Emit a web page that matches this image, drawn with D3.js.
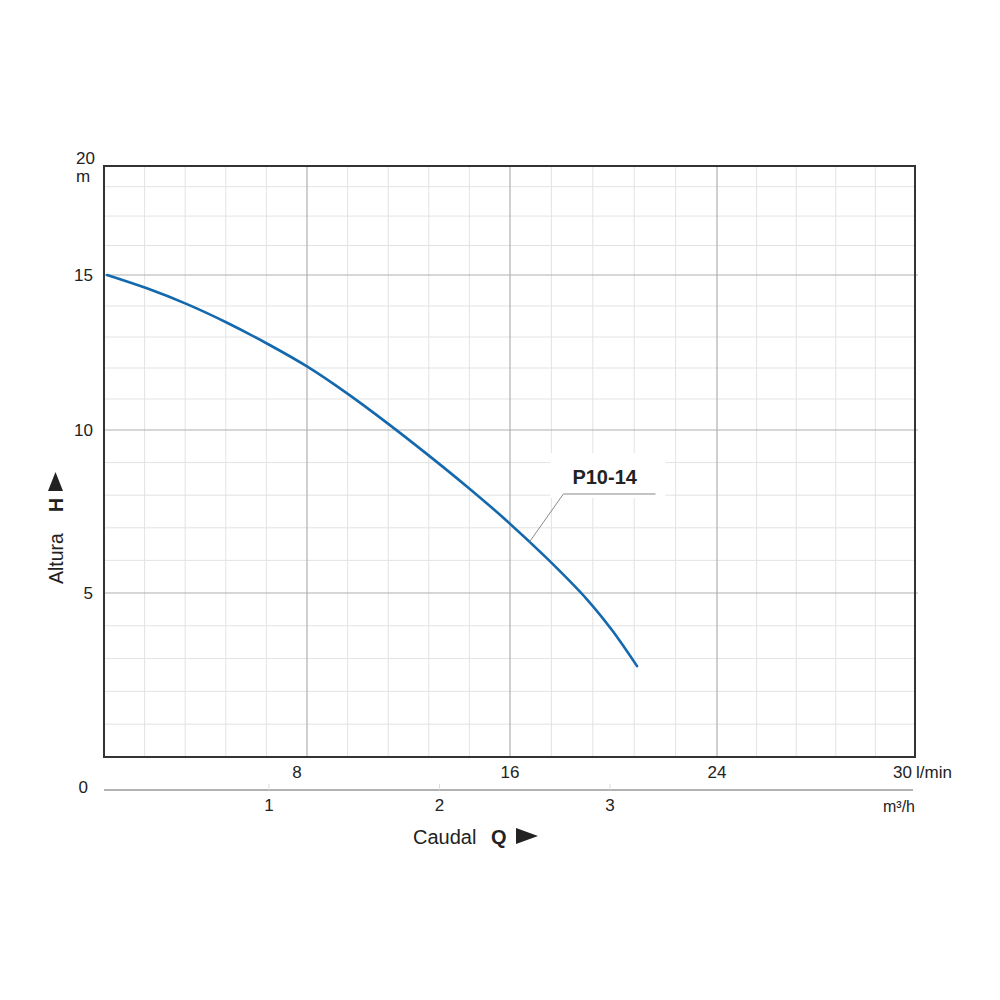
<!DOCTYPE html>
<html>
<head>
<meta charset="utf-8">
<script src="https://cdn.jsdelivr.net/npm/d3@7"></script>
<style>
  html, body { margin: 0; padding: 0; background: #fff; }
  svg { display: block; }
  text { font-family: "Liberation Sans", Arial, Helvetica, sans-serif; fill: #222; }
</style>
</head>
<body>
<svg id="chart" width="1000" height="1000"></svg>
<script>
// ---- data ----
const flowLmin = [0.12, 1.69, 3.27, 4.85, 6.42, 8.0, 9.58, 11.15, 12.73, 14.31, 15.88, 17.43, 18.98, 19.94, 20.91];
const headM    = [15.0, 14.57, 14.06, 13.46, 12.79, 12.05, 11.18, 10.23, 9.26, 8.26, 7.21, 6.06, 4.80, 3.87, 2.77];
const seriesName = "P10-14";
const labelAnchorQ = 16.75;

const xTickLabels = [8, 16, 24, 30];          // l/min
const xMinorTicks = [1.6, 3.2, 4.8, 6.4, 9.6, 11.2, 12.8, 14.4, 17.6, 19.2, 20.8, 22.4, 25.2, 26.4, 27.6, 28.8];
const yTickLabels = [5, 10, 15];               // m
const yMinorTicks = [1, 2, 3, 4, 6, 7, 8, 9, 11, 12, 13, 14, 16, 17, 18];
const m3hTickLabels = [1, 2, 3];

// ---- layout ----
const L = 104, R = 915, T = 166, B = 757;
const svg = d3.select("#chart");

// piecewise scales as in the printed chart
const x = d3.scaleLinear().domain([0, 8, 16, 24, 30]).range([L, 307, 510, 717, R]);
const y = d3.scaleLinear().domain([0, 5, 10, 15, 18.7]).range([B, 593, 430, 275, T]);
const xm = d3.scaleLinear().domain([1, 3]).range([269, 610]);

// minor grid
svg.append("g").selectAll("line").data(xMinorTicks).join("line")
  .attr("x1", d => x(d)).attr("x2", d => x(d)).attr("y1", T).attr("y2", B)
  .attr("stroke", "#e3e3e3").attr("stroke-width", 1);
svg.append("g").selectAll("line").data(yMinorTicks).join("line")
  .attr("x1", L).attr("x2", R).attr("y1", d => y(d)).attr("y2", d => y(d))
  .attr("stroke", "#e3e3e3").attr("stroke-width", 1);

// major grid
svg.append("g").selectAll("line").data(xTickLabels.filter(d => d < 30)).join("line")
  .attr("x1", d => x(d)).attr("x2", d => x(d)).attr("y1", T).attr("y2", B)
  .attr("stroke", "#b0b0b0").attr("stroke-width", 1.2);
svg.append("g").selectAll("line").data(yTickLabels).join("line")
  .attr("x1", L).attr("x2", R + 3).attr("y1", d => y(d)).attr("y2", d => y(d))
  .attr("stroke", "#b0b0b0").attr("stroke-width", 1.2);

// frame
svg.append("rect").attr("x", L).attr("y", T).attr("width", R - L).attr("height", B - T)
  .attr("fill", "none").attr("stroke", "#333").attr("stroke-width", 2);

// label anchor on the curve
const anchorIdx = d3.bisector(d => d).left(flowLmin, labelAnchorQ);
const q0 = flowLmin[anchorIdx - 1], q1 = flowLmin[anchorIdx];
const h0 = headM[anchorIdx - 1], h1 = headM[anchorIdx];
const anchorH = h0 + (h1 - h0) * (labelAnchorQ - q0) / (q1 - q0);
const ax = x(labelAnchorQ), ay = y(anchorH);
svg.append("rect").attr("x", ax + 21).attr("y", ay - 89).attr("width", 115).attr("height", 45)
  .attr("fill", "#fff");

// curve
const line = d3.line().x(d => x(d[0])).y(d => y(d[1])).curve(d3.curveCatmullRom);
svg.append("path").datum(flowLmin.map((q, i) => [q, headM[i]]))
  .attr("d", line).attr("fill", "none").attr("stroke", "#1468ad").attr("stroke-width", 2.6)
  .attr("stroke-linecap", "round");

// leader + label
svg.append("polyline")
  .attr("points", `${ax},${ay} ${ax + 34},${ay - 48} ${ax + 126},${ay - 48}`)
  .attr("fill", "none").attr("stroke", "#888").attr("stroke-width", 1);
svg.append("text").attr("x", ax + 43).attr("y", ay - 58)
  .attr("font-size", 20).attr("font-weight", "bold").text(seriesName);

// x tick labels (l/min)
svg.append("g").selectAll("text").data(xTickLabels).join("text")
  .attr("x", d => d === 30 ? x(d) - 3 : x(d) - (d === 8 ? 10 : 0))
  .attr("y", 778).attr("font-size", 17)
  .attr("text-anchor", d => d === 30 ? "end" : "middle").text(d => d);
svg.append("text").attr("x", R + 1).attr("y", 778).attr("font-size", 17).text("l/min");

// y tick labels (m)
svg.append("g").selectAll("text").data(yTickLabels).join("text")
  .attr("x", 93).attr("y", d => y(d) + 6).attr("font-size", 17)
  .attr("text-anchor", "end").text(d => d);
svg.append("text").attr("x", 95).attr("y", 164).attr("font-size", 17).attr("text-anchor", "end").text("20");
svg.append("text").attr("x", 83).attr("y", 182).attr("font-size", 17).attr("text-anchor", "middle").text("m");
svg.append("text").attr("x", 88).attr("y", 793).attr("font-size", 17).attr("text-anchor", "end").text("0");

// m3/h axis
svg.append("line").attr("x1", L).attr("x2", 913).attr("y1", 790).attr("y2", 790)
  .attr("stroke", "#999").attr("stroke-width", 1.5);
svg.append("g").selectAll("line").data(m3hTickLabels).join("line")
  .attr("x1", d => xm(d)).attr("x2", d => xm(d)).attr("y1", 784).attr("y2", 790)
  .attr("stroke", "#ddd").attr("stroke-width", 1);
svg.append("g").selectAll("text").data(m3hTickLabels).join("text")
  .attr("x", d => xm(d)).attr("y", 811).attr("font-size", 17)
  .attr("text-anchor", "middle").text(d => d);
svg.append("text").attr("x", 915).attr("y", 812).attr("font-size", 16).attr("text-anchor", "end")
  .text("m³/h");

// x title
const xt = svg.append("text").attr("x", 413).attr("y", 844).attr("font-size", 20);
xt.append("tspan").text("Caudal");
xt.append("tspan").attr("x", 491).attr("font-weight", "bold").text("Q");
svg.append("path").attr("d", "M516,828 L538,836 L516,844 Z").attr("fill", "#222");

// y title
const yg = svg.append("g").attr("transform", "translate(63,584) rotate(-90)");
const yt = yg.append("text").attr("x", 0).attr("y", 0).attr("font-size", 19.5);
yt.append("tspan").text("Altura");
yt.append("tspan").attr("x", 72).attr("font-weight", "bold").text("H");
yg.append("path").attr("d", "M93,-15 L112,-7.5 L93,0 Z").attr("fill", "#222");
</script>
</body>
</html>
